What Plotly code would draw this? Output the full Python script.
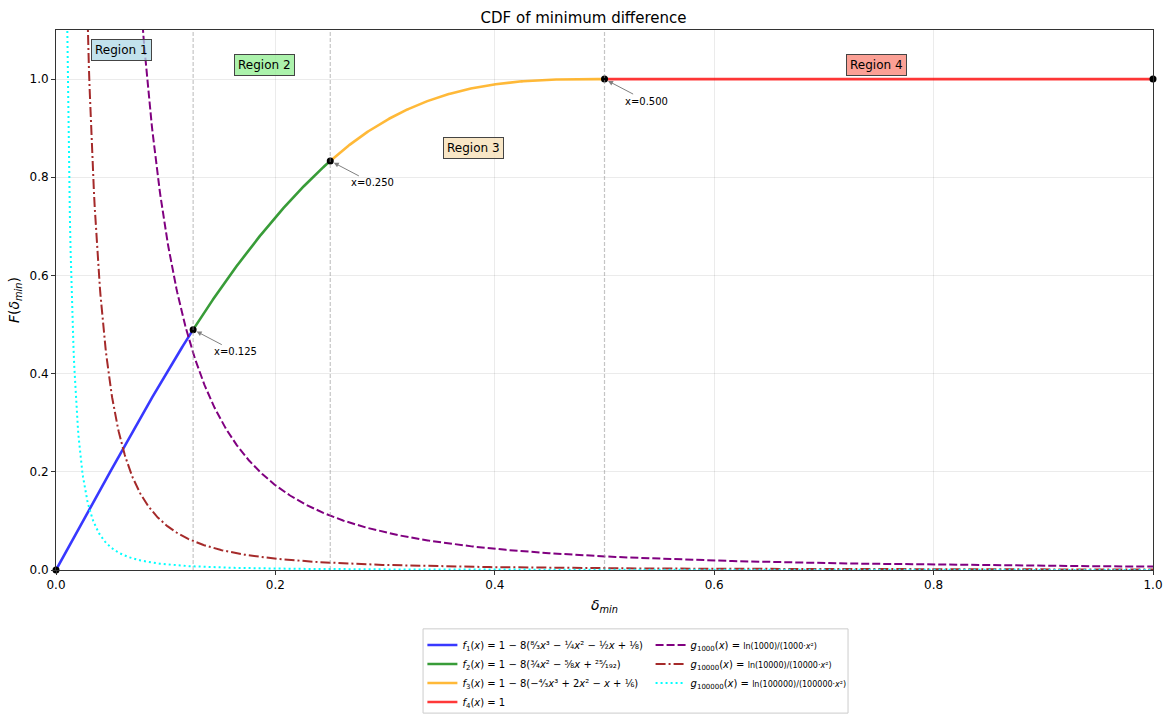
import numpy as np
import plotly.graph_objects as go

# ---- data read from the chart / legend ----
# polynomial coefficients inside 1 - 8(...), highest power first
f1_coef = [8/3, -1/4, -1/2, 1/8]
f2_coef = [3/4, -5/8, 25/192]
f3_coef = [-4/3, 2, -1, 1/6]
f1_range = [0.0, 0.125]
f2_range = [0.125, 0.25]
f3_range = [0.25, 0.5]
f4_range = [0.5, 1.0]
f4_value = 1.0
g_ns = [1000, 10000, 100000]
boundaries = [0.125, 0.25, 0.5]
region_names = ["Region 1", "Region 2", "Region 3", "Region 4"]
region_x = [0.060, 0.190, 0.381, 0.748]
region_y = [1.059, 1.028, 0.859, 1.028]
region_colors = ["rgba(173,216,230,0.75)", "rgba(144,238,144,0.75)",
                 "rgba(245,222,179,0.75)", "rgba(250,128,114,0.75)"]

def piece(coef, rng, n=200):
    x = np.linspace(rng[0], rng[1], n)
    return x, 1 - 8 * np.polyval(coef, x)

x1, y1 = piece(f1_coef, f1_range)
x2, y2 = piece(f2_coef, f2_range)
x3, y3 = piece(f3_coef, f3_range)
x4 = np.array(f4_range)
y4 = np.full(2, f4_value)

fig = go.Figure()

font = "DejaVu Sans, Verdana, sans-serif"

def small(t):
    return f"<span style='font-size:8px'>{t}</span>"

f_labels = [
    "<i>f</i><sub>1</sub>(<i>x</i>) = 1 − 8(⁸⁄₃<i>x</i>³ − ¼<i>x</i>² − ½<i>x</i> + ⅛)",
    "<i>f</i><sub>2</sub>(<i>x</i>) = 1 − 8(¾<i>x</i>² − ⅝<i>x</i> + ²⁵⁄₁₉₂)",
    "<i>f</i><sub>3</sub>(<i>x</i>) = 1 − 8(−⁴⁄₃<i>x</i>³ + 2<i>x</i>² − <i>x</i> + ⅙)",
    "<i>f</i><sub>4</sub>(<i>x</i>) = 1",
]
f_colors = ["rgba(0,0,255,0.78)", "rgba(0,128,0,0.78)", "rgba(255,165,0,0.78)", "rgba(255,0,0,0.78)"]
for (xx, yy), lab, col in zip([(x1, y1), (x2, y2), (x3, y3), (x4, y4)], f_labels, f_colors):
    fig.add_trace(go.Scatter(x=xx, y=yy, mode="lines", name=lab,
                             line=dict(color=col, width=2.6), legend="legend"))

g_colors = ["purple", "#a52a2a", "cyan"]
g_dash = ["8px,3px", "10px,3px,2px,3px", "2px,3px"]
for n, col, d in zip(g_ns, g_colors, g_dash):
    xg = np.linspace(0.002, 1.0, 1500)
    yg = np.log(n) / (n * xg ** 2)
    mask = yg < 3
    lab = f"<i>g</i><sub>{n}</sub>(<i>x</i>) = " + small(f"ln({n})/({n}·<i>x</i>²)")
    fig.add_trace(go.Scatter(x=xg[mask], y=yg[mask], mode="lines", name=lab,
                             line=dict(color=col, width=2, dash=d), legend="legend2"))

# key points
px = [0.0, f2_range[0], f3_range[0], f4_range[0], f4_range[1]]
py = [y1[0], y2[0], y3[0], f4_value, f4_value]
fig.add_trace(go.Scatter(x=px, y=py, mode="markers", marker=dict(color="black", size=7),
                         showlegend=False, cliponaxis=False))

shapes = []
for b in boundaries:
    shapes.append(dict(type="line", xref="x", yref="paper", x0=b, x1=b, y0=0, y1=1,
                       line=dict(color="rgba(150,150,150,0.55)", width=1.2, dash="4px,2px")))
# legend frame
shapes.append(dict(type="rect", xref="paper", yref="paper", x0=0.3346, x1=0.722,
                   y0=-0.265, y1=-0.109, line=dict(color="#cccccc", width=1),
                   fillcolor="rgba(255,255,255,0.8)", layer="below"))
fig.update_layout(shapes=shapes)

for name, xr, yr, c in zip(region_names, region_x, region_y, region_colors):
    fig.add_annotation(x=xr, y=yr, text=name, showarrow=False, bgcolor=c,
                       bordercolor="#444444", borderwidth=1, borderpad=3,
                       font=dict(size=12, color="black", family=font))

for bx, byv in zip(px[1:4], py[1:4]):
    fig.add_annotation(x=bx, y=byv, text=f"x={bx:.3f}", showarrow=True,
                       ax=42, ay=22, arrowhead=2, arrowsize=1, arrowwidth=1,
                       arrowcolor="gray", standoff=4,
                       font=dict(size=10, color="black", family=font))

fig.update_layout(
    width=1167, height=715,
    margin=dict(l=56, r=14, t=30, b=145, autoexpand=False),
    plot_bgcolor="white", paper_bgcolor="white",
    font=dict(family=font, size=12, color="black"),
    title=dict(text="CDF of minimum difference", x=0.5, xanchor="center",
               y=0.975, yanchor="middle", font=dict(size=15)),
    xaxis=dict(range=[0, 1], tickvals=[0, 0.2, 0.4, 0.6, 0.8, 1.0],
               ticktext=["0.0", "0.2", "0.4", "0.6", "0.8", "1.0"], automargin=False,
               showgrid=True, gridcolor="rgba(0,0,0,0.08)", zeroline=False,
               showline=True, linecolor="#333333", linewidth=1, mirror=True,
               ticks="outside", ticklen=4, tickcolor="#333333",
               title=dict(text="<i>δ<sub>min</sub></i>", font=dict(size=14), standoff=8)),
    yaxis=dict(range=[0, 1.1], tickvals=[0, 0.2, 0.4, 0.6, 0.8, 1.0],
               ticktext=["0.0", "0.2", "0.4", "0.6", "0.8", "1.0"], automargin=False,
               showgrid=True, gridcolor="rgba(0,0,0,0.08)", zeroline=False,
               showline=True, linecolor="#333333", linewidth=1, mirror=True,
               ticks="outside", ticklen=4, tickcolor="#333333",
               title=dict(text="<i>F</i>(<i>δ<sub>min</sub></i>)", font=dict(size=14), standoff=6)),
    legend=dict(x=0.334, y=-0.112, xanchor="left", yanchor="top",
                bgcolor="rgba(0,0,0,0)", font=dict(size=10), tracegroupgap=0,
                itemwidth=30),
    legend2=dict(x=0.542, y=-0.112, xanchor="left", yanchor="top",
                 bgcolor="rgba(0,0,0,0)", font=dict(size=10), tracegroupgap=0,
                 itemwidth=30),
)

fig.write_html("out.html", config={"displayModeBar": False},
               post_script="document.body.style.margin='0px';")
